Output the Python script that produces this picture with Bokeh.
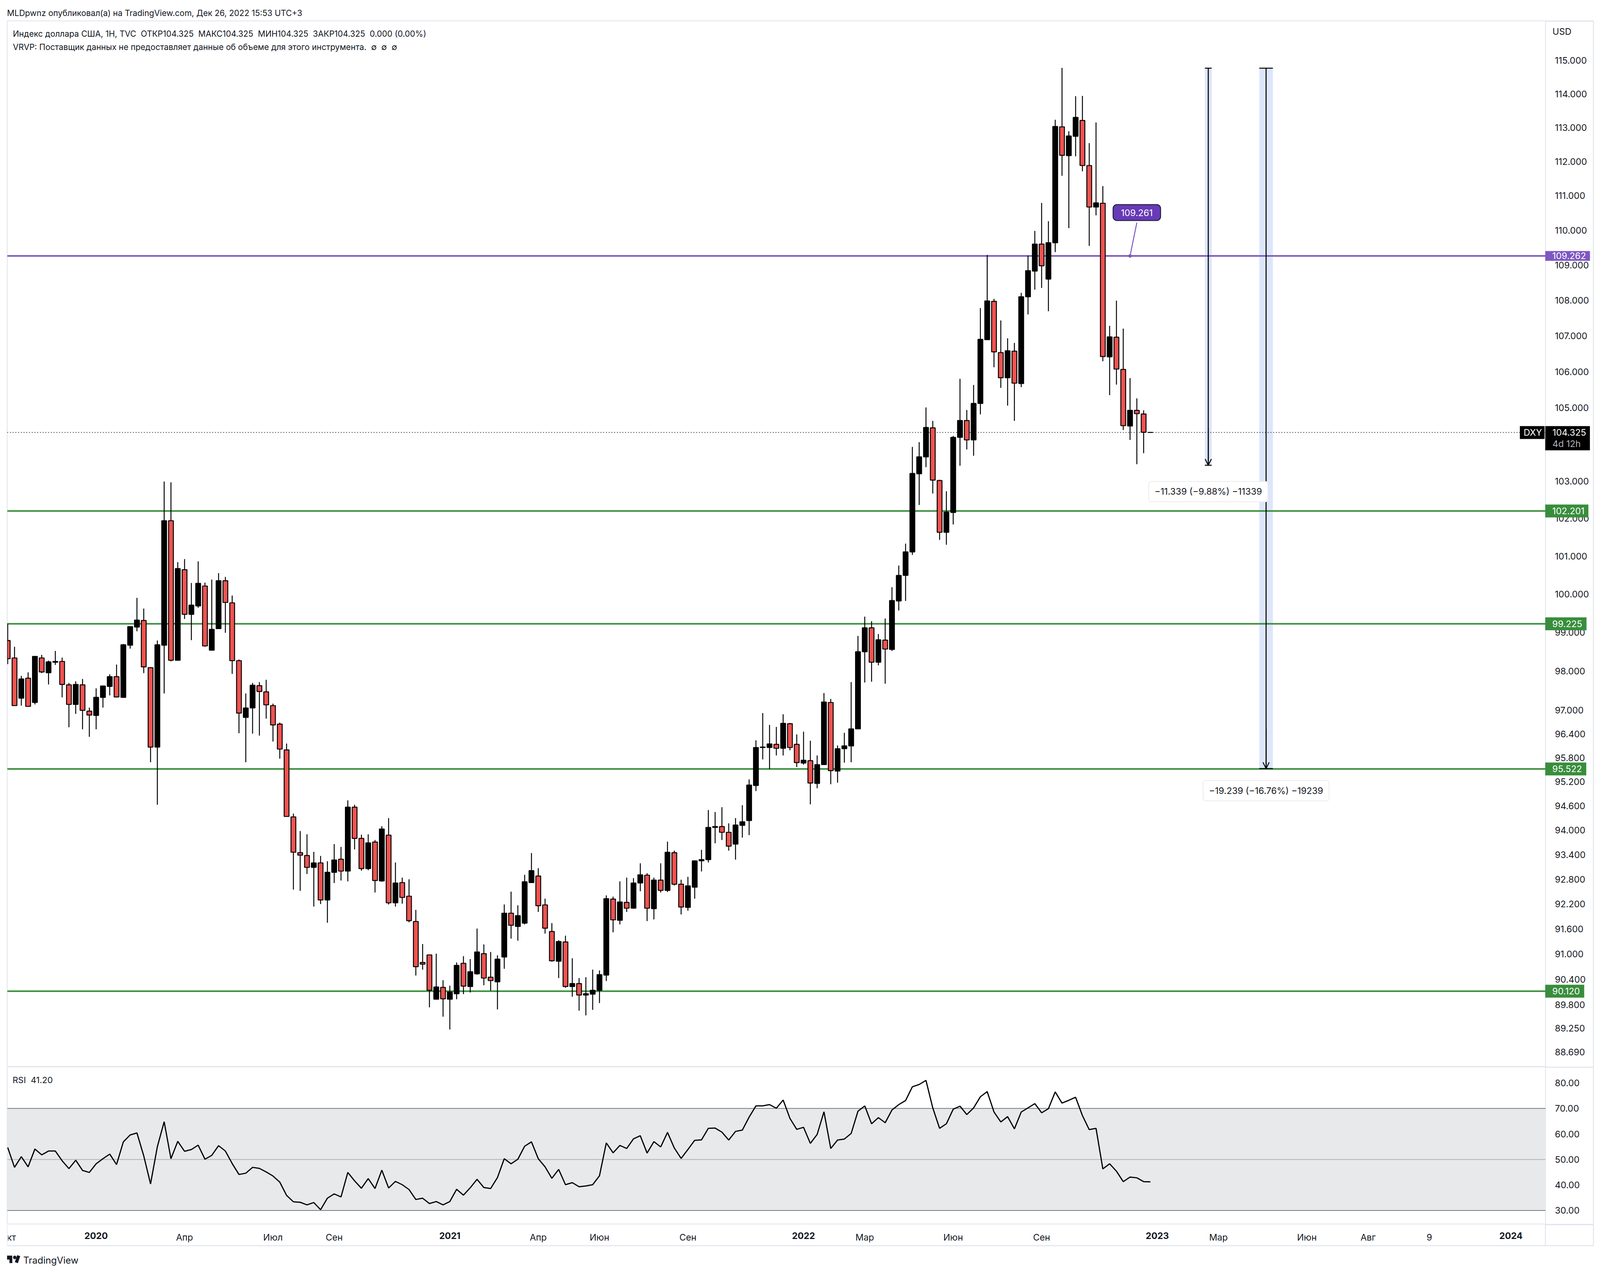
from bokeh.plotting import figure
from bokeh.layouts import column
from bokeh.embed import file_html
from bokeh.resources import INLINE
from bokeh.models import (Range1d, FixedTicker, PrintfTickFormatter, Label, BoxAnnotation, Arrow, OpenHead,
                          ColumnDataSource)

opens = [98.79,98.34,97.31,97.82,97.20,98.34,97.96,98.23,98.25,97.65,
97.15,97.65,96.98,96.87,97.33,97.61,97.86,97.33,98.67,99.14,
99.31,98.09,96.07,98.67,101.94,98.28,100.64,99.47,99.69,100.21,
98.54,99.10,100.35,99.77,98.27,96.82,97.06,97.63,97.47,97.12,
96.65,96.00,94.33,93.45,93.38,93.09,93.20,92.30,92.97,93.29,
93.00,94.57,93.80,93.06,93.71,92.76,93.88,92.23,92.72,92.39,
91.78,90.80,90.98,89.93,90.21,89.93,90.06,90.78,90.23,90.53,
91.01,90.45,90.34,90.93,91.98,91.66,91.74,92.72,92.88,92.18,
91.54,90.83,91.29,90.23,90.30,90.03,90.05,90.14,90.50,92.32,
91.81,92.24,92.10,92.71,92.90,92.09,92.78,92.53,93.45,92.68,
92.12,92.61,93.25,93.28,94.07,94.09,93.95,93.66,94.12,94.24,
95.11,96.06,96.06,96.14,96.04,96.66,96.14,95.67,95.73,95.16,
95.63,97.20,95.47,96.03,96.10,96.53,98.50,99.12,98.23,98.80,
98.56,99.82,100.49,101.11,103.20,103.66,104.45,103.02,101.63,102.16,
104.19,104.65,104.12,105.12,106.89,107.97,106.53,105.83,106.57,105.67,
108.10,108.83,109.60,108.60,109.64,113.02,112.17,112.74,113.21,111.88,
110.67,110.78,106.41,106.96,106.06,104.50,104.93,104.83,104.325]

closes = [98.32,97.12,97.80,97.10,98.38,97.98,98.24,98.25,97.66,97.15,
97.66,97.00,96.88,97.33,97.62,97.86,97.34,98.68,99.15,99.32,
98.11,96.07,98.68,101.94,98.28,100.67,99.47,99.71,100.28,98.65,
99.08,100.35,99.78,98.27,96.93,97.06,97.64,97.48,97.14,96.63,
96.02,94.34,93.46,93.39,93.09,93.20,92.30,92.97,93.27,93.00,
94.57,93.80,93.06,93.69,92.77,94.03,92.23,92.71,92.36,91.80,
90.70,90.76,90.14,90.22,89.94,90.10,90.73,90.24,90.58,91.05,
90.43,90.37,90.88,91.98,91.69,91.92,92.74,93.01,92.16,91.62,
90.84,91.30,90.23,90.30,90.03,90.06,90.14,90.51,92.33,91.82,
92.25,92.10,92.71,92.91,92.10,92.78,92.53,93.46,92.68,92.13,
92.64,93.25,93.28,94.07,94.09,93.95,93.61,94.13,94.21,95.12,
96.06,96.07,96.15,96.04,96.67,96.06,95.68,95.74,95.17,95.63,
97.21,95.48,96.03,96.10,96.53,98.50,99.12,98.23,98.81,98.57,
99.83,100.49,101.11,103.21,103.66,104.46,103.03,101.63,102.17,104.19,
104.65,104.12,105.12,106.90,107.98,106.55,105.83,106.58,105.68,108.10,
108.84,109.60,108.98,109.64,113.03,112.18,112.75,113.30,111.88,110.67,
110.79,106.42,106.97,106.07,104.51,104.93,104.84,104.33,104.325]

highs = [99.23,98.63,97.88,97.97,98.38,98.42,98.27,98.52,98.35,97.70,
97.74,97.80,97.07,97.56,97.63,97.92,98.17,98.70,99.15,99.90,
99.62,98.10,98.79,102.99,102.97,100.84,100.92,100.29,100.86,100.30,
100.38,100.55,100.45,99.96,98.30,97.43,97.70,97.72,97.78,97.17,
96.69,96.16,94.41,93.98,93.90,93.47,93.37,93.24,93.66,93.59,
94.74,94.63,93.89,93.90,93.76,94.10,94.30,93.21,92.84,92.80,
92.06,91.24,90.98,91.01,90.38,90.25,90.80,90.95,90.88,91.61,
91.23,91.05,90.97,92.19,92.50,92.17,92.91,93.44,93.07,92.33,
91.74,91.33,91.44,90.90,90.43,90.45,90.63,90.61,92.41,92.38,
92.75,92.84,92.83,93.19,92.95,92.84,93.19,93.72,93.50,92.79,
92.86,93.25,93.52,94.50,94.45,94.57,94.17,94.30,94.62,95.26,
96.24,96.93,96.63,96.58,96.90,96.68,96.39,96.46,96.23,95.86,
97.44,97.29,96.11,96.43,97.72,98.91,99.41,99.29,98.96,99.36,
100.18,100.75,101.33,103.93,104.06,105.01,104.64,103.04,102.73,104.23,
105.80,104.94,105.63,107.78,109.29,108.04,107.43,106.93,106.80,108.21,
109.27,109.98,110.79,110.26,113.23,114.78,112.89,113.93,113.94,112.54,
113.15,111.28,107.28,107.99,107.20,105.82,105.26,104.93,104.325]

lows = [98.18,97.12,97.12,97.09,97.15,97.95,97.66,98.16,97.33,96.57,
96.91,96.52,96.33,96.52,97.07,97.38,97.34,97.33,98.58,99.03,
97.95,95.69,94.63,97.43,98.25,98.28,99.35,98.80,99.64,98.63,
98.54,99.10,98.99,97.93,96.42,95.69,96.41,96.36,96.79,96.21,
95.78,94.34,92.55,92.52,92.93,92.14,92.20,91.75,92.71,92.77,
92.75,93.53,93.01,93.02,92.48,92.74,92.19,92.14,92.21,91.76,
90.49,90.63,89.74,89.93,89.52,89.22,89.93,90.05,90.09,90.51,
90.26,90.13,89.69,90.65,91.37,91.32,91.71,92.72,92.01,91.49,
90.82,90.43,90.20,89.99,89.66,89.55,89.68,89.84,90.36,91.52,
91.71,92.01,92.09,92.51,91.79,91.83,92.48,92.49,92.65,91.95,
92.04,92.33,92.99,93.21,93.68,93.76,93.50,93.28,93.82,93.88,
94.97,95.76,95.52,95.86,95.86,95.99,95.57,95.63,94.64,95.04,
95.63,95.14,95.18,95.68,95.69,96.53,97.71,97.73,98.15,97.68,
98.52,99.57,99.82,101.03,102.36,103.38,102.67,101.43,101.30,101.84,
103.42,103.86,103.69,104.82,106.89,106.12,105.55,105.06,104.64,105.57,
107.60,108.30,108.35,107.69,109.37,111.58,110.06,112.15,111.71,109.55,
110.43,106.29,105.35,105.64,104.39,104.12,103.46,103.76,104.325]

rsi = [54.7,46.9,51.1,47.1,54.1,51.8,53.3,53.3,49.5,46.4,
49.7,45.7,44.9,48.3,50.3,52.1,48.0,56.9,59.6,60.4,
51.4,40.4,55.0,64.8,50.3,57.1,53.2,53.9,55.6,50.1,
51.6,55.4,53.3,48.4,44.1,44.6,46.9,46.5,45.1,43.5,
41.1,35.9,33.4,33.2,32.2,33.1,30.3,34.8,36.5,35.3,
44.9,41.6,38.7,42.5,38.6,45.8,38.8,41.4,40.1,38.2,
34.3,34.8,32.7,33.5,32.2,33.5,38.3,36.0,38.9,42.2,
39.0,38.6,42.9,50.3,48.3,50.1,55.2,56.9,50.3,47.1,
42.6,46.1,40.1,40.9,39.3,39.6,40.1,43.6,56.5,52.6,
55.5,54.3,58.1,59.3,52.5,57.0,54.9,60.6,54.5,50.4,
53.9,57.5,57.7,62.2,62.3,60.7,57.6,61.0,61.5,66.6,
71.0,71.0,71.5,70.1,73.3,66.1,61.8,62.6,56.3,59.8,
68.7,54.3,57.6,58.0,60.2,68.9,71.0,64.0,66.4,64.4,
69.4,71.5,73.1,78.5,79.4,81.0,70.2,62.2,64.0,69.7,
70.9,67.6,70.2,74.6,76.6,68.6,64.7,66.8,62.0,68.6,
70.2,71.9,68.3,69.9,76.5,72.1,73.2,74.4,67.2,61.7,
62.2,46.3,48.3,45.4,41.3,43.1,42.8,41.3,41.2]

price_ticks = [115,114,113,112,111,110,109,108,107,106,105,103,102,101,100,99,98,97,
               96.4,95.8,95.2,94.6,94,93.4,92.8,92.2,91.6,91,90.4,89.8,89.25,88.69]
rsi_ticks = [80,70,60,50,40,30]
month_ticks = [0.55,26,39,48,78,87,100,126,139,152,178,191,200,209]
month_labels = ["кт","Апр","Июл","Сен","Апр","Июн","Сен","Мар","Июн","Сен","Мар","Июн","Авг","9"]
year_ticks = [13,65,117,169,221]
year_labels = ["2020","2021","2022","2023","2024"]

green_levels = [102.201,99.225,95.522,90.12]
purple_level = 109.262
last_price = 104.325
tool_top = 114.77
tool1_bottom = 103.431
tool2_bottom = 95.531

TXT = "#131722"
FONT = "Inter"
SEP = "#e0e3eb"
GREEN = "#388e3c"
PURPLE = "#7e57c2"
BLUE = "#dde6fb"
RED = "#ef5350"
FS = "23px"
K = 4096 / 4660      # the window captures 4096 px across; horizontal layout is scaled to fit

def X(px):           # reference x pixel to canvas x
    return px * K

idx = list(range(len(opens)))
XR = Range1d(-0.0707, 226.08)
FW = 3938

p = figure(frame_width=FW, frame_height=2677, x_range=XR, y_range=Range1d(88.35, 116.2),
           y_axis_type="log", y_axis_location="right", x_axis_location=None,
           output_backend="svg", toolbar_location=None,
           min_border_left=18, min_border_top=53, min_border_right=140, min_border_bottom=0,
           background_fill_color="white", border_fill_color="white",
           outline_line_color=SEP, outline_line_width=2)
p.grid.visible = False
ax = p.yaxis[0]
ax.ticker = FixedTicker(ticks=price_ticks)
ax.formatter = PrintfTickFormatter(format="%.3f")
ax.major_tick_line_color = None
ax.minor_tick_line_color = None
ax.axis_line_color = None
ax.major_label_standoff = 18
ax.major_label_text_font = FONT
ax.major_label_text_font_size = FS
ax.major_label_text_color = TXT

p.quad(left=[176,184], right=[177,186], top=[tool_top,tool_top], bottom=[tool1_bottom,tool2_bottom],
       fill_color=BLUE, line_color=None)

xl = [XR.start, XR.end]
p.line(xl, [last_price,last_price], line_color="#131722", line_width=2, line_dash="2 5")
for lv in green_levels:
    p.line(xl, [lv,lv], line_color=GREEN, line_width=4)
p.line(xl, [purple_level,purple_level], line_color=PURPLE, line_width=4)

src = ColumnDataSource(dict(x=idx, o=opens, c=closes, h=highs, l=lows,
      top=[max(a,b) for a,b in zip(opens,closes)], bot=[min(a,b) for a,b in zip(opens,closes)],
      col=[RED if c<o else "black" for o,c in zip(opens,closes)]))
p.segment(x0="x", x1="x", y0="l", y1="h", source=src, line_color="black", line_width=2.4)
p.vbar(x="x", width=0.71, top="top", bottom="bot", fill_color="col", line_color="black", line_width=2.4, source=src)

p.segment(x0=[176.5,185], x1=[176.5,185], y0=[tool_top,tool_top], y1=[tool1_bottom,tool2_bottom], line_color="black", line_width=2.6)
p.segment(x0=[176,184,176,184], x1=[177,186,177,186], y0=[tool_top,tool_top,tool1_bottom,tool2_bottom],
          y1=[tool_top,tool_top,tool1_bottom,tool2_bottom], line_color="black", line_width=2.4)
p.add_layout(Arrow(end=OpenHead(size=16, line_color="black", line_width=2.4), x_start=176.5, y_start=tool1_bottom+1,
                   x_end=176.5, y_end=tool1_bottom, line_color="black", line_width=2.4))
p.add_layout(Arrow(end=OpenHead(size=16, line_color="black", line_width=2.4), x_start=185, y_start=tool2_bottom+1,
                   x_end=185, y_end=tool2_bottom, line_color="black", line_width=2.4))

p.line([165,166],[109.261,110.22], line_color=PURPLE, line_width=2.5)
p.scatter([165],[109.261], size=8, fill_color=PURPLE, line_color=PURPLE)

def tool_label(fig, x, y, text):
    fig.add_layout(Label(x=x, y=y, text=text, text_font=FONT, text_font_size=FS, text_color=TXT,
                         text_align="center", text_baseline="middle", background_fill_color="white",
                         border_line_color="#ececec", border_line_width=2, padding=(15,12), border_radius=6))
tool_label(p, 176.5, 102.72, "−11.339 (−9.88%) −11339")
tool_label(p, 185.0, 94.98, "−19.239 (−16.76%) −19239")
p.add_layout(Label(x=166, y=110.51, text="109.261", text_font=FONT, text_font_size=FS, text_color="white",
                   text_align="center", text_baseline="middle", background_fill_color="#673ab7",
                   border_line_color="#131722", border_line_width=2, padding=(20,12), border_radius=10))

def ctext(fig, x, y, text, color=TXT, place="center", size=FS, style="normal"):
    lab = Label(x=X(x), y=y, x_units="canvas", y_units="canvas", text=text, text_font=FONT, text_font_size=size,
                text_color=color, text_baseline="middle", text_font_style=style)
    fig.add_layout(lab, place)

def rect(fig, l, r, t, b, color, y0, place="right"):
    # a blank label with a background: the only mark that draws outside a figure's frame
    w = max(int(round(X(r) - X(l))), 1)
    fig.add_layout(Label(x=X(l), y=t-y0, x_units="canvas", y_units="canvas", text="\u00a0", text_font_size="1px",
                         text_align="left", text_baseline="top", background_fill_color=color,
                         padding=(0, w, 0, int(b-t))), place)

ctext(p, 20, 33, "MLDpwnz опубликовал(а) на TradingView.com, Дек 26, 2022 15:53 UTC+3", place="above", size="21px")
ctext(p, 37, 86, "Индекс доллара США, 1Н, TVC\u00a0\u00a0ОТКР104.325\u00a0\u00a0МАКС104.325\u00a0\u00a0МИН104.325\u00a0\u00a0ЗАКР104.325\u00a0\u00a00.000 (0.00%)", size="21px")
ctext(p, 37, 120, "VRVP: Поставщик данных не предоставляет данные об объеме для этого инструмента.\u00a0\u00a0∅\u00a0\u00a0∅\u00a0\u00a0∅", size="21px")
ctext(p, 4521, 80, "USD", place="right")

rect(p, 4500, 4640, 52, 54, SEP, 0)
rect(p, 4639, 4641, 53, 2730, SEP, 0)

def tag(y, text, color, rp, v=6):
    p.add_layout(Label(x=X(4500), y=y, x_units="canvas", y_units="data", text=text, text_font=FONT, text_font_size=FS,
                       text_color="white", text_align="left", text_baseline="middle", background_fill_color=color,
                       padding=(18,rp,v,v)), "right")
tag(purple_level, "109.262", PURPLE, 10, 4)
tag(102.201, "102.201", GREEN, 10, 8)
tag(99.225, "99.225", GREEN, 11, 8)
tag(95.522, "95.522", GREEN, 11, 8)
tag(90.12, "90.120", GREEN, 11, 8)
rect(p, 4500, 4630, 1090, 1151, "black", 0)
p.add_layout(BoxAnnotation(left=X(4426), right=X(4498), top=1090, bottom=1123, left_units="canvas", right_units="canvas",
                           top_units="canvas", bottom_units="canvas", fill_color="black", fill_alpha=1, line_color=None))
ctext(p, 4521, 1106, "104.325", color="white", place="right")
ctext(p, 4521, 1135, "4d 12h", color="#b2b5be", place="right")
ctext(p, 4437, 1106, "DXY", color="white")

r = figure(frame_width=FW, frame_height=402, x_range=XR, y_range=Range1d(24.7, 86.3),
           y_axis_location="right", output_backend="svg", toolbar_location=None,
           min_border_left=18, min_border_top=0, min_border_right=140, min_border_bottom=126,
           background_fill_color="white", border_fill_color="white",
           outline_line_color=SEP, outline_line_width=2)
r.grid.visible = False
ry = r.yaxis[0]
ry.ticker = FixedTicker(ticks=rsi_ticks)
ry.formatter = PrintfTickFormatter(format="%.2f")
ry.major_tick_line_color = None
ry.minor_tick_line_color = None
ry.axis_line_color = None
ry.major_label_standoff = 18
ry.major_label_text_font = FONT
ry.major_label_text_font_size = FS
ry.major_label_text_color = TXT
rx = r.xaxis[0]
rx.ticker = FixedTicker(ticks=month_ticks)
rx.major_label_overrides = {k: v for k, v in zip(month_ticks, month_labels)}
rx.major_tick_line_color = None
rx.minor_tick_line_color = None
rx.axis_line_color = None
rx.major_label_standoff = 14
rx.major_label_text_font = FONT
rx.major_label_text_font_size = FS
rx.major_label_text_color = TXT

r.quad(left=[XR.start], right=[XR.end], top=[70], bottom=[30], fill_color="#e8e9eb", line_color=None)
r.line(xl, [70,70], line_color="#787b86", line_width=2)
r.line(xl, [50,50], line_color="#b0b1b6", line_width=2)
r.line(xl, [30,30], line_color="#787b86", line_width=2)
r.line(idx, rsi, line_color="black", line_width=3)

R0 = 2730
for t, s in zip(year_ticks, year_labels):
    r.add_layout(Label(x=t, y=3162-R0, x_units="data", y_units="canvas", text=s, text_font=FONT, text_font_size=FS,
                       text_font_style="bold", text_color=TXT, text_align="center", text_baseline="middle"), "below")
ctext(r, 36, 2763-R0, "RSI\u00a0\u00a041.20", size="22px")

rect(r, 4500, 4640, 2729, 2731, SEP, R0)
rect(r, 4500, 4640, 3132, 3134, SEP, R0)
rect(r, 4499, 4501, 3132, 3187, SEP, R0)
rect(r, 4639, 4641, 2730, 3187, SEP, R0)
rect(r, 19, 22, 3132, 3187, "#f0f3fa", R0, "left")
rect(r, 20, 4640, 3186, 3188, "#e6e8ef", R0, "below")

# TradingView logo and name below the time axis
rect(r, 20, 35, 3213, 3222, TXT, R0, "below")
rect(r, 27, 35, 3222, 3231, TXT, R0, "below")
r.add_layout(Label(x=X(42.3), y=3217.5-R0, x_units="canvas", y_units="canvas", text="\u00a0", text_font_size="1px",
                   text_align="center", text_baseline="middle", background_fill_color=TXT,
                   padding=(4,4,4,4), border_radius=5), "below")
r.add_layout(Label(x=X(50.5), y=3222-R0, x_units="canvas", y_units="canvas", text="\u00a0", text_font_size="1px",
                   text_align="center", text_baseline="middle", background_fill_color=TXT,
                   padding=(4,4,9,9), angle=-18, angle_units="deg"), "below")
ctext(r, 67, 3225-R0, "TradingView", place="below", size="24px")

page = column(p, r, spacing=0)
open("out.html", "w").write(file_html(page, INLINE))
